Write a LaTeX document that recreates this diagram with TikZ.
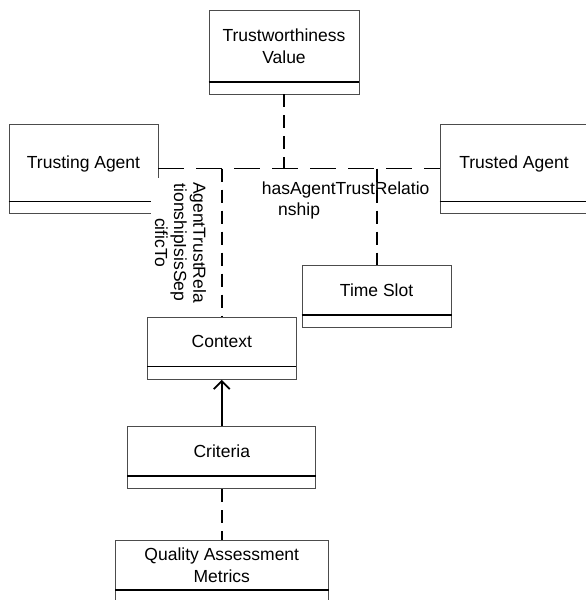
\documentclass[tikz,border=0pt]{standalone}
\usepackage{fontspec}
\setmainfont{Liberation Sans}
\usetikzlibrary{arrows.meta}
\begin{document}
\begin{tikzpicture}[x=1pt,y=-1pt,
  umlbox/.style={draw=black!70, line width=0.9pt, fill=white, inner sep=0pt},
  divline/.style={line width=1.5pt, draw=black},
  lbl/.style={font=\fontsize{17.5}{21.6}\selectfont, inner sep=0pt, align=center},
  hdash/.style={line width=1.8pt, dash pattern=on 26pt off 12pt},
  vdash/.style={line width=1.8pt, dash pattern=on 13pt off 8pt},
  solidcon/.style={line width=1.8pt},
]
\useasboundingbox (0,0) rectangle (586,600);

% boxes
\node[umlbox, minimum width=150pt, minimum height=84pt] (tv) at (284,52) {};
\draw[divline] ([yshift=12.7pt]tv.south west) -- ([yshift=12.7pt]tv.south east);
\node[lbl] (tvt) at (284,46) {Trustworthiness\\Value};

\node[umlbox, minimum width=149pt, minimum height=89pt] (ta) at (83.5,168.5) {};
\draw[divline] ([yshift=12pt]ta.south west) -- ([yshift=12pt]ta.south east);
\node[lbl, anchor=base] (tat) at (83.5,168.3) {Trusting Agent};

\node[umlbox, minimum width=150pt, minimum height=89pt] (td) at (515,168.5) {};
\draw[divline] ([yshift=12pt]td.south west) -- ([yshift=12pt]td.south east);
\node[lbl, anchor=base] (tdt) at (514,168.3) {Trusted Agent};

\node[umlbox, minimum width=149pt, minimum height=61.6pt] (ts) at (376.6,296.5) {};
\draw[divline] ([yshift=12.6pt]ts.south west) -- ([yshift=12.6pt]ts.south east);
\node[lbl, anchor=base] (tst) at (376.6,296.6) {Time Slot};

\node[umlbox, minimum width=148.4pt, minimum height=62.3pt] (cx) at (221.8,348.2) {};
\draw[divline] ([yshift=13.3pt]cx.south west) -- ([yshift=13.3pt]cx.south east);
\node[lbl, anchor=base] (cxt) at (221.8,347.7) {Context};

\node[umlbox, minimum width=188pt, minimum height=62pt] (cr) at (221.8,457.7) {};
\draw[divline] ([yshift=13.4pt]cr.south west) -- ([yshift=13.4pt]cr.south east);
\node[lbl, anchor=base] (crt) at (221.8,457.3) {Criteria};

\node[umlbox, minimum width=212.5pt, minimum height=62pt] (qam) at (221.8,571) {};
\draw[divline] ([yshift=12.7pt]qam.south west) -- ([yshift=12.7pt]qam.south east);
\node[lbl] (qamt) at (221.8,565) {Quality Assessment\\Metrics};

% rotated label with white background
\node[lbl, rotate=-90, fill=white, inner sep=4pt, font=\fontsize{17.5}{19.2}\selectfont] (specl) at (180.5,242.5)
  {AgentTrustRela\\tionshipIsisSep\\cificTo};

% connectors
\draw[hdash] (ta.east) -- (td.west);
\draw[vdash] (tv.south) -- (tv.south |- ta.east);
\draw[vdash] (cx.north |- ta.east) -- (cx.north);
\draw[vdash] (ts.north |- ta.east) -- (ts.north);
\draw[solidcon, -{Straight Barb[length=8pt, width=16pt]}] (cr.north) -- (cx.south);
\draw[vdash] (cr.south) -- (qam.north);

% association label
\node[lbl, align=left, anchor=north west] (assoc) at (261.6,181.5)
  {hasAgentTrustRelatio\\\hspace*{16.4pt}nship};
\end{tikzpicture}
\end{document}
